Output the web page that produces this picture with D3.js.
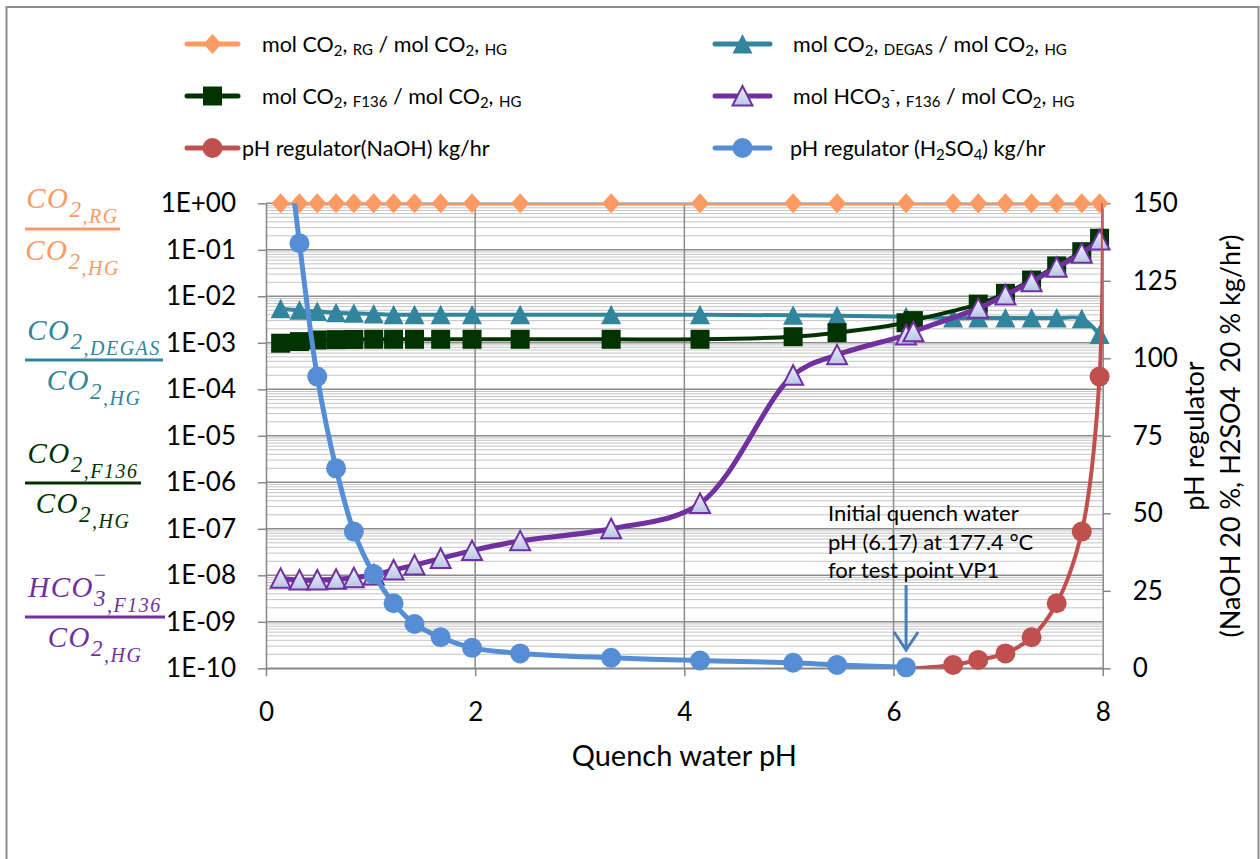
<!DOCTYPE html>
<html>
<head>
<meta charset="utf-8">
<script src="https://cdn.jsdelivr.net/npm/d3@7"></script>
<style>
  html, body { margin: 0; padding: 0; background: #fff; }
  svg { display: block; }
  text { font-family: Lato, "Open Sans", sans-serif; fill: #000; white-space: pre; }
  .frac { font-family: "Liberation Serif", serif; font-style: italic; }
</style>
</head>
<body>
<svg id="chart" width="1260" height="859"></svg>
<script>
// ---- data -------------------------------------------------------------
// Quench water pH values used by the sweep
const phSweep = [0.14, 0.32, 0.49, 0.67, 0.84, 1.03, 1.22, 1.42, 1.67, 1.97, 2.43, 3.30,
                 4.15, 5.04, 5.46, 6.12, 6.57, 6.81, 7.07, 7.32, 7.56, 7.80, 7.97];
// pH values for the liquid-side (F136) results
const phF136 = [0.14, 0.32, 0.49, 0.67, 0.84, 1.03, 1.22, 1.42, 1.67, 1.97, 2.43, 3.30,
                4.15, 5.04, 5.46, 6.12, 6.19, 6.81, 7.07, 7.32, 7.56, 7.80, 7.97];
const phNaOH = [6.19, 6.57, 6.81, 7.07, 7.32, 7.56, 7.80, 7.97, 8.00];
const phH2SO4 = [0.14, 0.32, 0.49, 0.67, 0.84, 1.03, 1.22, 1.42, 1.67, 1.97, 2.43, 3.30,
                 4.15, 5.04, 5.46, 6.12];

// mol CO2,RG / mol CO2,HG
const ratioRG = [1, 1, 1, 1, 1, 1, 1, 1, 1, 1, 1, 1, 1, 1, 1, 1, 1, 1, 1, 1, 1, 1, 1];
// mol CO2,DEGAS / mol CO2,HG
const ratioDEGAS = [5.4e-3, 5.0e-3, 4.7e-3, 4.45e-3, 4.3e-3, 4.17e-3, 4.0e-3, 4.0e-3, 4.0e-3,
                    4.0e-3, 4.0e-3, 4.0e-3, 4.0e-3, 3.9e-3, 3.8e-3, 3.65e-3, 3.4e-3, 3.4e-3,
                    3.4e-3, 3.4e-3, 3.4e-3, 3.3e-3, 1.5e-3];
// mol CO2,F136 / mol CO2,HG
const ratioF136 = [9.8e-4, 1.06e-3, 1.15e-3, 1.17e-3, 1.18e-3, 1.19e-3, 1.19e-3, 1.19e-3, 1.19e-3,
                   1.19e-3, 1.19e-3, 1.19e-3, 1.19e-3, 1.35e-3, 1.65e-3, 2.7e-3, 3.0e-3, 6.8e-3,
                   1.16e-2, 2.24e-2, 4.5e-2, 9.1e-2, 0.177];
// mol HCO3-,F136 / mol CO2,HG
const ratioHCO3 = [8.6e-9, 7.9e-9, 7.9e-9, 8.2e-9, 8.9e-9, 1.02e-8, 1.3e-8, 1.66e-8, 2.3e-8,
                   3.4e-8, 5.5e-8, 1.0e-7, 3.5e-7, 2.0e-4, 5.5e-4, 1.47e-3, 1.73e-3, 5.5e-3,
                   1.07e-2, 2.06e-2, 4.2e-2, 8.4e-2, 0.163];
// pH regulator flows, kg/hr
const flowNaOH = [0, 1.1, 2.7, 4.8, 10.0, 21.0, 44.1, 94.1, 200];
const flowH2SO4 = [188, 137.1, 94.1, 64.5, 44.1, 30.4, 21.0, 14.3, 10.0, 6.6, 4.8, 3.4, 2.5,
                   1.8, 1.1, 0.3];

const logTicks = [1, 1e-1, 1e-2, 1e-3, 1e-4, 1e-5, 1e-6, 1e-7, 1e-8, 1e-9, 1e-10];
const rightTicks = [0, 25, 50, 75, 100, 125, 150];
const xTicks = [0, 2, 4, 6, 8];
const initialPH = 6.12; // sweep point at the initial quench water condition

// ---- layout -----------------------------------------------------------
const svg = d3.select("#chart");
const X0 = 266, X1 = 1102.7, YT = 203.3, YB = 668.3;
const x = d3.scaleLinear().domain([0, 8]).range([X0, X1]);
const yL = d3.scaleLog().domain([1e-10, 1]).range([YB, YT]);
const yR = d3.scaleLinear().domain([0, 150]).range([YB, YT]);
const axisColor = "#868686";

// outer chart frame
svg.append("path")
  .attr("d", "M6.5,870 V7 H1258.5 V870")
  .attr("fill", "none").attr("stroke", "#8c8c8c").attr("stroke-width", 2);

const defs = svg.append("defs");
defs.append("clipPath").attr("id", "plotClip")
  .append("rect").attr("x", X0).attr("y", YT).attr("width", X1 - X0).attr("height", YB - YT);
const grad = defs.append("linearGradient").attr("id", "triFill")
  .attr("x1", 0).attr("y1", 0).attr("x2", 0).attr("y2", 1);
grad.append("stop").attr("offset", "0%").attr("stop-color", "#eef1fa");
grad.append("stop").attr("offset", "100%").attr("stop-color", "#b8c5e6");

// ---- gridlines --------------------------------------------------------
const grid = svg.append("g");
const minor = [];
logTicks.slice(1).forEach(d => { for (let k = 2; k <= 9; k++) minor.push(k * d); });
grid.selectAll("line.minor").data(minor).join("line")
  .attr("x1", X0).attr("x2", X1)
  .attr("y1", d => yL(d)).attr("y2", d => yL(d))
  .attr("stroke", "#c4c4c4").attr("stroke-width", 1);
grid.selectAll("line.major").data(logTicks).join("line")
  .attr("x1", X0).attr("x2", X1)
  .attr("y1", d => yL(d)).attr("y2", d => yL(d))
  .attr("stroke", "#8c8c8c").attr("stroke-width", 1.5);
grid.selectAll("line.vert").data([2, 4, 6]).join("line")
  .attr("x1", d => x(d)).attr("x2", d => x(d))
  .attr("y1", YT).attr("y2", YB)
  .attr("stroke", "#8c8c8c").attr("stroke-width", 1.5);

// ---- axes -------------------------------------------------------------
function styleAxis(g) {
  g.selectAll("path.domain").attr("stroke", axisColor).attr("stroke-width", 1.5);
  g.selectAll(".tick line").attr("stroke", axisColor).attr("stroke-width", 1.5);
  g.selectAll(".tick text").attr("font-family", "Lato, sans-serif").attr("font-size", 26).attr("fill", "#000");
}
const fmtE = d => {
  const e = Math.round(Math.log10(d));
  return "1E" + (e >= 0 ? "+" : "-") + String(Math.abs(e)).padStart(2, "0");
};
svg.append("g").attr("transform", `translate(${X0},0)`)
  .call(d3.axisLeft(yL).tickValues(logTicks).tickFormat(fmtE).tickSize(8).tickSizeOuter(0).tickPadding(22))
  .call(styleAxis);
svg.append("g").attr("transform", `translate(${X1},0)`)
  .call(d3.axisRight(yR).tickValues(rightTicks).tickSize(8).tickSizeOuter(0).tickPadding(22))
  .call(styleAxis);
svg.append("g").attr("transform", `translate(0,${YB})`)
  .call(d3.axisBottom(x).tickValues(xTicks).tickFormat(d3.format("d")).tickSize(8).tickSizeOuter(0).tickPadding(26))
  .call(styleAxis);

svg.append("text").attr("x", (X0 + X1) / 2).attr("y", 766)
  .attr("text-anchor", "middle").attr("font-size", 29).text("Quench water pH");

const rTitle = svg.append("text").attr("transform", "translate(1204,436) rotate(-90)")
  .attr("text-anchor", "middle").attr("font-size", 27);
rTitle.append("tspan").attr("x", 0).attr("y", 0).text("pH regulator");
rTitle.append("tspan").attr("x", 0).attr("y", 36).text("(NaOH 20 %, H2SO4\u00a0 20 % kg/hr)");

// ---- marker shapes ----------------------------------------------------
const shapes = {
  diamond: "M0,-10 L9,0 L0,10 L-9,0 Z",
  triangle: "M0,-10 L10,9.5 L-10,9.5 Z",
  square: "M-9.5,-9.5 H9.5 V9.5 H-9.5 Z",
  circle: d3.symbol(d3.symbolCircle, Math.PI * 100)()
};

const series = [
  { name: "rg", ph: phSweep, v: ratioRG, y: yL, color: "#fb9a63", width: 3.5, shape: "diamond", fill: "#fb9a63" },
  { name: "degas", ph: phSweep, v: ratioDEGAS, y: yL, color: "#31859c", width: 4, shape: "triangle", fill: "#31859c" },
  { name: "f136", ph: phF136, v: ratioF136, y: yL, color: "#003300", width: 4, shape: "square", fill: "#003300" },
  { name: "hco3", ph: phF136, v: ratioHCO3, y: yL, color: "#7030a0", width: 5, shape: "triangle", fill: "url(#triFill)", stroke: "#7030a0" },
  { name: "naoh", ph: phNaOH, v: flowNaOH, y: yR, color: "#c0504d", width: 4, shape: "circle", fill: "#c0504d" },
  { name: "h2so4", ph: phH2SO4, v: flowH2SO4, y: yR, color: "#558ed5", width: 5, shape: "circle", fill: "#558ed5" }
];

const line = d3.line().curve(d3.curveCatmullRom.alpha(0.5));

series.forEach(s => {
  const pts = s.ph.map((p, i) => [x(p), s.y(s.v[i]), s.v[i]]);
  const g = svg.append("g").attr("class", s.name);
  g.append("path")
    .attr("d", line(pts.map(p => [p[0], p[1]])))
    .attr("clip-path", "url(#plotClip)")
    .attr("fill", "none").attr("stroke", s.color).attr("stroke-width", s.width)
    .attr("stroke-linejoin", "round").attr("stroke-linecap", "round");
  // flows above the axis maximum or at zero dosing carry no marker
  const shown = s.y === yR ? pts.filter(p => p[2] > 0 && p[2] <= 150) : pts;
  g.selectAll("path.mk").data(shown).join("path")
    .attr("class", "mk")
    .attr("transform", p => `translate(${p[0]},${p[1]})`)
    .attr("d", shapes[s.shape])
    .attr("fill", s.fill)
    .attr("stroke", s.stroke || "none").attr("stroke-width", 2);
});

// ---- annotation -------------------------------------------------------
const note = svg.append("text").attr("font-size", 22);
["Initial quench water", "pH (6.17) at 177.4 °C", "for test point VP1"].forEach((t, i) => {
  note.append("tspan").attr("x", 828).attr("y", 521 + i * 28.5).text(t);
});
const ax = x(initialPH);
svg.append("path")
  .attr("d", `M${ax},585 V649 M${ax - 12},632 L${ax},650 L${ax + 12},632`)
  .attr("fill", "none").attr("stroke", "#4a7ebb").attr("stroke-width", 3)
  .attr("stroke-linejoin", "miter");

// ---- legend -----------------------------------------------------------
const legendRows = [
  { s: series[0], lx: 187, ly: 44, tx: 262,
    parts: [["mol CO"], ["2", "sub"], [", "], ["RG", "small"], [" / mol CO"], ["2", "sub"], [", "], ["HG", "small"]] },
  { s: series[1], lx: 715, ly: 44, tx: 793,
    parts: [["mol CO"], ["2", "sub"], [", "], ["DEGAS", "small"], [" / mol CO"], ["2", "sub"], [", "], ["HG", "small"]] },
  { s: series[2], lx: 187, ly: 96, tx: 262,
    parts: [["mol CO"], ["2", "sub"], [", "], ["F136", "small"], [" / mol CO"], ["2", "sub"], [", "], ["HG", "small"]] },
  { s: series[3], lx: 715, ly: 96, tx: 793,
    parts: [["mol HCO"], ["3", "sub"], ["-", "sup"], [", "], ["F136", "small"], [" / mol CO"], ["2", "sub"], [", "], ["HG", "small"]] },
  { s: series[4], lx: 187, ly: 148, tx: 242,
    parts: [["pH regulator(NaOH) kg/hr"]] },
  { s: series[5], lx: 715, ly: 148, tx: 790,
    parts: [["pH regulator (H"], ["2", "sub"], ["SO"], ["4", "sub"], [") kg/hr"]] }
];
const lg = svg.append("g");
legendRows.forEach(r => {
  const s = r.s;
  const len = r.lx > 500 ? 55 : 51;
  lg.append("line").attr("x1", r.lx).attr("x2", r.lx + len).attr("y1", r.ly).attr("y2", r.ly)
    .attr("stroke", s.color).attr("stroke-width", 5).attr("stroke-linecap", "round");
  lg.append("path").attr("transform", `translate(${r.lx + len / 2},${r.ly})`)
    .attr("d", shapes[s.shape]).attr("fill", s.fill)
    .attr("stroke", s.stroke || "none").attr("stroke-width", 2);
  const t = lg.append("text").attr("x", r.tx).attr("y", r.ly + 8).attr("font-size", 21.5);
  let shift = 0;
  r.parts.forEach(([txt, kind]) => {
    const sp = t.append("tspan").text(txt);
    let target = 0, size = 21.5;
    if (kind === "sub") { target = 4; size = 15; }
    else if (kind === "small") { target = 3; size = 15; }
    else if (kind === "sup") { target = -9; size = 15; }
    sp.attr("font-size", size).attr("dy", target - shift);
    shift = target;
  });
});

// ---- fraction labels on the left --------------------------------------
const fracs = [
  { color: "#fb9a63", bar: [25, 120, 229], num: ["CO", "2", ",RG"], den: ["CO", "2", ",HG"], nb: 208, db: 260 },
  { color: "#31859c", bar: [25, 163, 360], num: ["CO", "2", ",DEGAS"], den: ["CO", "2", ",HG"], nb: 340, db: 390 },
  { color: "#003300", bar: [25, 141, 483], num: ["CO", "2", ",F136"], den: ["CO", "2", ",HG"], nb: 463, db: 513 },
  { color: "#7030a0", bar: [25, 165, 617], num: ["HCO", "3", ",F136"], den: ["CO", "2", ",HG"], nb: 597, db: 647, minus: true }
];
const fg = svg.append("g");
fracs.forEach(f => {
  const cx = (f.bar[0] + f.bar[1]) / 2;
  fg.append("line").attr("x1", f.bar[0]).attr("x2", f.bar[1]).attr("y1", f.bar[2]).attr("y2", f.bar[2])
    .attr("stroke", f.color).attr("stroke-width", 3);
  [[f.num, f.nb, true], [f.den, f.db, false]].forEach(([parts, base, isNum]) => {
    const t = fg.append("text").attr("class", "frac").attr("x", cx).attr("y", base)
      .attr("text-anchor", "middle").attr("fill", f.color).attr("letter-spacing", 1.5);
    t.append("tspan").attr("font-size", 29).attr("fill", f.color).text(parts[0]);
    const sub = t.append("tspan").attr("font-size", 23).attr("fill", f.color).attr("dy", 9).text(parts[1]);
    if (isNum && f.minus) {
      // superscript minus stacked above the subscript 3
      const w3 = sub.node().getComputedTextLength();
      const mi = t.append("tspan").attr("font-size", 21).attr("fill", f.color)
        .attr("dy", -24).text("\u2212");
      const wm = mi.node().getComputedTextLength();
      mi.attr("dx", -w3 + (w3 - wm) / 2);
      t.append("tspan").attr("font-size", 20).attr("fill", f.color)
        .attr("dx", (w3 - wm) / 2).attr("dy", 30).text(parts[2]);
    } else {
      t.append("tspan").attr("font-size", 20).attr("fill", f.color).attr("dy", 6).text(parts[2]);
    }
  });
});
</script>
</body>
</html>
